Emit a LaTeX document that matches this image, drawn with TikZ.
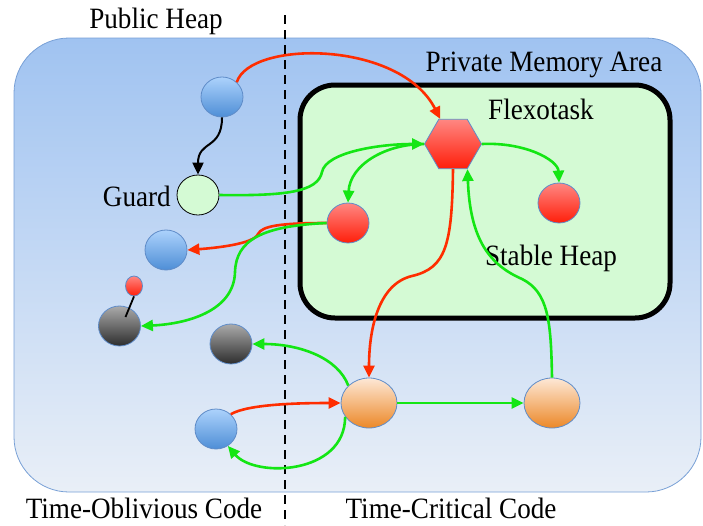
\documentclass[tikz,border=0pt]{standalone}
\usepackage{fontspec}
\setmainfont{Liberation Serif}[FakeStretch=0.92]
\usetikzlibrary{shapes.geometric,arrows.meta}

\definecolor{heaptop}{RGB}{160,195,241}
\definecolor{heapbot}{RGB}{233,239,247}
\definecolor{heapline}{RGB}{120,160,214}
\definecolor{taskfill}{RGB}{212,250,212}
\definecolor{objline}{RGB}{95,140,200}
\definecolor{bluetop}{RGB}{172,210,252}
\definecolor{bluebot}{RGB}{78,142,214}
\definecolor{redtop}{RGB}{255,135,130}
\definecolor{redbot}{RGB}{255,30,10}
\definecolor{graytop}{RGB}{170,170,170}
\definecolor{graybot}{RGB}{45,45,45}
\definecolor{orangetop}{RGB}{253,232,214}
\definecolor{orangebot}{RGB}{236,136,40}
\definecolor{refred}{RGB}{255,45,0}
\definecolor{refgreen}{RGB}{20,230,20}

\tikzset{
  obj/.style={ellipse,inner sep=0pt,minimum width=42pt,minimum height=40pt,draw=objline,line width=0.8pt},
  blueobj/.style={obj,top color=bluetop,bottom color=bluebot},
  redobj/.style={obj,top color=redtop,bottom color=redbot},
  grayobj/.style={obj,top color=graytop,bottom color=graybot},
  orangeobj/.style={obj,minimum width=56pt,minimum height=50pt,top color=orangetop,bottom color=orangebot},
  redref/.style={draw=refred,line width=2.6pt,-{Triangle[length=12pt,width=11pt]}},
  greenref/.style={draw=refgreen,line width=2.6pt,-{Triangle[length=12pt,width=11pt]}},
  lbl/.style={font=\fontsize{29.5}{32}\selectfont,inner sep=0pt,anchor=base}
}

\begin{document}
\begin{tikzpicture}[x=1pt,y=-1pt]
    \useasboundingbox (0,0) rectangle (703,525);

    % heap areas
    \shade[top color=heaptop,bottom color=heapbot] (14,38) [rounded corners=55pt] rectangle (701,492);
    \draw[heapline,line width=0.8pt,rounded corners=55pt] (14,38) rectangle (701,492);
    \draw[line width=2pt,dash pattern=on 9pt off 6pt] (285,15) -- (285,525);
    \draw[line width=5pt,fill=taskfill,rounded corners=35pt] (300,85) rectangle (670,318);

    \node[lbl] (pubheap) at (156,28) {Public Heap};
    \node[lbl] (privmem) at (544,71) {Private Memory Area};
    \node[lbl] (flexo) at (541,119) {Flexotask};
    \node[lbl] (stable) at (551,265) {Stable Heap};
    \node[lbl] (oblivious) at (144,518) {Time-Oblivious Code};
    \node[lbl] (critical) at (451,518) {Time-Critical Code};

    % objects
    \node[blueobj] (bt) at (222,97) {};
    \node[obj,fill=taskfill,draw=black] (guard) at (198,195) {};
    \node[lbl,anchor=east] (guardlbl) at (171,196) {Guard};
    \node[redobj] (rl) at (348,223) {};
    \node[redobj] (rr) at (559,203) {};
    \node[blueobj] (bm) at (166,250) {};
    \node[grayobj] (gl) at (119.5,326) {};
    \node[redobj,minimum width=17pt,minimum height=20pt] (rs) at (134,286) {};
    \node[grayobj] (gm) at (231,344) {};
    \node[blueobj] (bb) at (216,429) {};
    \node[orangeobj] (o1) at (369,403) {};
    \node[orangeobj] (o2) at (552,403) {};
    \node[regular polygon,regular polygon sides=6,minimum size=57pt,inner sep=0pt,
          draw=objline,line width=0.8pt,top color=redtop,bottom color=redbot] (hex) at (453,144) {};

    \draw[line width=1.8pt] (rs.south) -- ([shift={(6,-9)}]gl.center);

    % references
    \draw[redref] (bt.45) .. controls (250,40) and (400,40) .. (hex.117);
    \draw[line width=2pt,-{Triangle[length=12pt,width=11pt]}] (bt.south) .. controls (222,150) and (198,140) .. (guard.north);
    \draw[greenref] (guard.east) .. controls (285,196) and (318,192) .. (322,172) .. controls (326,152) and (380,144) .. (hex.west);
    \draw[greenref] (hex.west) .. controls (385,144) and (350,165) .. (rl.north);
    \draw[greenref] (hex.east) .. controls (525,142) and (558,160) .. (rr.north);
    \draw[redref] (rl.west) .. controls (280,223) and (262,226) .. (258,234) .. controls (254,244) and (215,248) .. (bm.east);
    \draw[greenref] (rl.west) .. controls (262,226) and (236,240) .. (235,272) .. controls (234,312) and (185,324) .. (gl.east);
    \draw[redref] (hex.south) .. controls (452,245) and (446,268) .. (412,276) .. controls (378,284) and (369,330) .. (o1.north);
    \draw[greenref] (o2.north) .. controls (551,320) and (548,292) .. (522,279) .. controls (490,265) and (470,240) .. (hex.-60);
    \draw[greenref] (o1.140) .. controls (338,358) and (300,344) .. (gm.east);
    \draw[redref] (bb.45) .. controls (248,404) and (300,403) .. (o1.west);
    \draw[greenref] (o1.-150) .. controls (345,475) and (255,478) .. (bb.-55);
    \draw[greenref] (o1.east) -- (o2.west);
\end{tikzpicture}
\end{document}
